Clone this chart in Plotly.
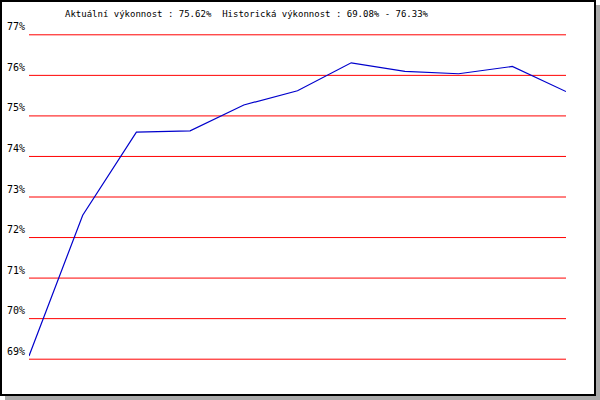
import plotly.graph_objects as go

# Data
x_idx = list(range(11))
values = [69.08, 72.55, 74.60, 74.63, 75.27, 75.62, 76.31, 76.10, 76.04, 76.22, 75.60]
tick_vals = [69, 70, 71, 72, 73, 74, 75, 76, 77]
tick_text = ["69%", "70%", "71%", "72%", "73%", "74%", "75%", "76%", "77%"]
title_text = "Aktuální výkonnost : 75.62%  Historická výkonnost : 69.08% - 76.33%"

W, H = 600, 400
L, R, T, B = 29, 34, 34, 40
pw, ph = W - L - R, H - T - B

def px(xp):
    return (xp - L) / pw

def py(yp):
    return (H - B - yp) / ph

fig = go.Figure()
fig.add_trace(go.Scatter(
    x=x_idx, y=values, mode="lines",
    line=dict(color="#0000cc", width=1.2),
    hoverinfo="skip", showlegend=False,
))

font = dict(family="DejaVu Sans Mono, Liberation Mono, monospace", size=9, color="black")
tick_font = dict(family="DejaVu Sans Mono, Liberation Mono, monospace", size=10, color="black")

shapes = [
    # shadow
    dict(type="rect", xref="paper", yref="paper", x0=px(596), x1=px(600), y0=py(5), y1=py(400),
         fillcolor="#aaaaaa", line=dict(width=0), layer="below"),
    dict(type="rect", xref="paper", yref="paper", x0=px(5), x1=px(600), y0=py(396), y1=py(400),
         fillcolor="#aaaaaa", line=dict(width=0), layer="below"),
    # border
    dict(type="rect", xref="paper", yref="paper", x0=px(1), x1=px(595), y0=py(1), y1=py(395),
         fillcolor="rgba(0,0,0,0)", line=dict(color="black", width=2)),
]
# red grid lines at each tick value
for v in tick_vals:
    shapes.append(dict(type="line", xref="paper", yref="y", x0=0, x1=1, y0=v, y1=v,
                       line=dict(color="#ff0000", width=1), layer="below"))

fig.update_layout(
    width=W, height=H,
    margin=dict(l=L, r=R, t=T, b=B, pad=0, autoexpand=False),
    paper_bgcolor="white", plot_bgcolor="white",
    showlegend=False,
    shapes=shapes,
    annotations=[dict(
        text=title_text, xref="paper", yref="paper",
        x=px(247), y=py(13.5), xanchor="center", yanchor="middle",
        showarrow=False, font=font,
    )],
    xaxis=dict(range=[0, 10], showgrid=False, zeroline=False, showticklabels=False,
               showline=False, ticks="", fixedrange=True, automargin=False),
    yaxis=dict(range=[68.98, 77.02], tickvals=tick_vals, ticktext=tick_text,
               showgrid=False, zeroline=False,
               showline=False, ticks="", tickfont=tick_font, ticklabelshift=-8,
               ticklabelstandoff=3, fixedrange=True, automargin=False),
)

fig.write_html(
    "out.html",
    config={"displayModeBar": False, "staticPlot": True},
    post_script="document.body.style.margin='0';document.body.style.padding='0';document.body.style.overflow='hidden';",
)
